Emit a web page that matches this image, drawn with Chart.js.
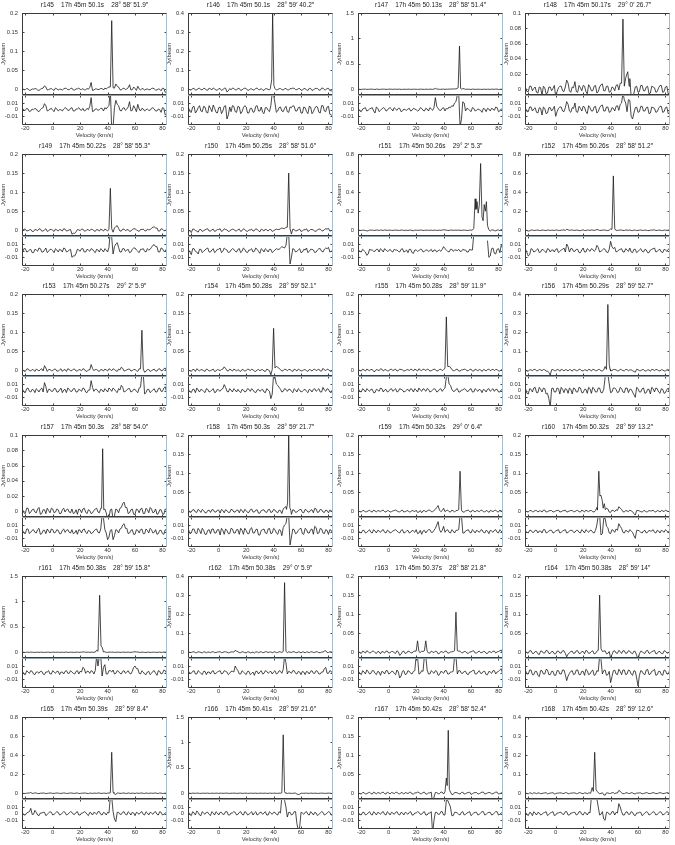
<!DOCTYPE html>
<html>
<head>
<meta charset="utf-8">
<script src="https://cdn.jsdelivr.net/npm/chart.js@4.4.1/dist/chart.umd.min.js"></script>
<style>
  html, body { margin: 0; padding: 0; background: #fff; }
  #grid { position: relative; width: 675px; height: 845px; overflow: hidden; }
  #grid canvas { position: absolute; }
</style>
</head>
<body>
<div id="grid"></div>
<script>
// channel velocities (km/s), even and odd channels
const velocityEven = [-22,-20,-18,-16,-14,-12,-10,-8,-6,-4,-2,0,2,4,6,8,10,12,
  14,16,18,20,22,24,26,28,30,32,34,36,38,40,42,44,46,48,
  50,52,54,56,58,60,62,64,66,68,70,72,74,76,78,80,82,84];
const velocityOdd = [-21,-19,-17,-15,-13,-11,-9,-7,-5,-3,-1,1,3,5,7,9,11,13,
  15,17,19,21,23,25,27,29,31,33,35,37,39,41,43,45,47,49,
  51,53,55,57,59,61,63,65,67,69,71,73,75,77,79,81,83];
const velocityTicks = [-20, 0, 20, 40, 60, 80];
const residualTicks = [-0.01, 0, 0.01];

const sourceNames = ['r145','r146','r147','r148','r149','r150','r151','r152',
  'r153','r154','r155','r156','r157','r158','r159','r160',
  'r161','r162','r163','r164','r165','r166','r167','r168'];
const rightAscension = ['17h 45m 50.1s','17h 45m 50.1s','17h 45m 50.13s','17h 45m 50.17s',
  '17h 45m 50.22s','17h 45m 50.25s','17h 45m 50.26s','17h 45m 50.26s',
  '17h 45m 50.27s','17h 45m 50.28s','17h 45m 50.28s','17h 45m 50.29s',
  '17h 45m 50.3s','17h 45m 50.3s','17h 45m 50.32s','17h 45m 50.32s',
  '17h 45m 50.38s','17h 45m 50.38s','17h 45m 50.37s','17h 45m 50.38s',
  '17h 45m 50.39s','17h 45m 50.41s','17h 45m 50.42s','17h 45m 50.42s'];
const declination = ['28° 58′ 51.9″','28° 59′ 40.2″','28° 58′ 51.4″','29° 0′ 26.7″',
  '28° 58′ 55.3″','28° 58′ 51.6″','29° 2′ 5.3″','28° 58′ 51.2″',
  '29° 2′ 5.9″','28° 59′ 52.1″','28° 59′ 11.9″','28° 59′ 52.7″',
  '28° 58′ 54.0″','28° 59′ 21.7″','29° 0′ 6.4″','28° 59′ 13.2″',
  '28° 59′ 15.8″','29° 0′ 5.9″','28° 58′ 21.8″','28° 59′ 14″',
  '28° 59′ 8.4″','28° 59′ 21.6″','28° 58′ 52.4″','28° 59′ 12.6″'];

const fluxMax  = [0.2,0.4,1.5,0.1, 0.2,0.2,0.8,0.8, 0.2,0.2,0.2,0.4, 0.1,0.2,0.2,0.2, 1.5,0.4,0.2,0.2, 0.8,1.5,0.2,0.4];
const fluxStep = [0.05,0.1,0.5,0.02, 0.05,0.05,0.2,0.2, 0.05,0.05,0.05,0.1, 0.02,0.05,0.05,0.05, 0.5,0.1,0.05,0.05, 0.2,0.5,0.05,0.1];

// emission line segments [velocity, Jy/beam]
const lineProfiles = [
  [[[42,0.006],[43,0.18],[44,0.004]]],
  [[[37.6,0.002],[38.6,0.05],[39.3,0.40],[40.2,0.02],[41,0.004]]],
  [[[49,0.004],[50.6,0.03],[51.6,0.85],[52.4,0.02],[53,0.002]]],
  [[[48,0.008],[49,0.092],[50,0.004],[51,0.015],[52.5,0.023],[53.5,0.004]]],
  [[[41,0.003],[42,0.11],[43,0.004]]],
  [[[50,0.008],[51,0.15],[52,0.004]]],
  [[[61,0.002],[62,0.02],[63,0.33],[63.6,0.22],[64.4,0.3],[65.2,0.18],[66,0.26],[67,0.7],[68,0.14],[68.8,0.1],[69.6,0.27],[70.4,0.2],[71.2,0.3],[72,0.05],[73,0.005]]],
  [[[41,0.01],[42,0.57],[43,0.02],[43.6,0.002]]],
  [[[64,0.004],[65,0.105],[66,0.003]]],
  [[[39,0.002],[40,0.11],[41,0.006]]],
  [[[41,0.005],[42,0.14],[43,0.01]]],
  [[[37,0.005],[38,0.345],[39,0.03],[39.6,0.005]]],
  [[[35.6,0.004],[36.4,0.082],[37.2,0.002]]],
  [[[49.4,0.005],[50.2,0.022],[51,0.2],[51.8,0.01],[52.6,0.002]]],
  [[[51,0.004],[52,0.105],[53,0.003]]],
  [[[30.4,0.003],[31.4,0.105],[32.2,0.04],[33,0.042],[33.8,0.03],[34.6,0.008],[35.4,0.02],[36.2,0.004]]],
  [[[31,0.004],[32,0.04],[33,0.02],[34.2,1.12],[35.2,0.12],[36,0.1],[37,0.005]]],
  [[[47,0.004],[48,0.365],[49,0.005]]],
  [[[20,0.003],[21,0.03],[22,0.002]], [[26,0.004],[27,0.03],[28,0.003]], [[48,0.004],[49,0.105],[50,0.004]]],
  [[[31,0.005],[32,0.15],[33,0.01],[34,0.002]]],
  [[[42,0.005],[43,0.43],[44,0.01],[44.6,0.002]]],
  [[[46,0.01],[47,1.15],[48,0.03],[48.6,0.002]]],
  [[[41,0.004],[42,0.04],[42.6,0.02],[43.4,0.165],[44.2,0.01],[45,0.003]]],
  [[[25.6,0.004],[26.6,0.03],[27.4,0.01],[28.4,0.215],[29.4,0.02],[30.2,0.01],[31,0.003]]]
];

// residuals on even channels, mJy/beam
const residualsEven = [
  [2,-1,1,-2,0,1,-3,2,9,-2,1,-1,3,-2,0,1,2,-1, 3,-2,1,0,2,-1,0,18,-2,1,0,2,3,4,30,-25,14,6, -2,3,1,12,-1,2,8,-2,1,0,-1,2,1,-2,0,3,-8,-10],
  [3,-4,5,-2,6,-3,4,-5,2,7,-4,3,-6,5,-14,4,6,-3, 5,-6,3,4,-5,2,-3,6,-2,-4,3,-1,6,22,-4,3,-2,2, -3,4,6,-2,3,-5,4,-3,5,-6,2,4,-5,6,-3,5,-8,-10],
  [1,-3,2,-2,1,3,-5,2,-1,3,-2,2,1,3,-1,2,-2,0, 1,-2,2,0,-1,2,-2,1,3,-1,18,2,-1,3,2,4,6,10, 22,-25,12,-2,1,-3,2,-1,0,-4,1,2,-2,1,4,-3,1,2],
  [2,-3,4,1,-4,3,-8,2,-5,3,1,-10,2,4,-3,12,-2,3, 10,-4,2,5,-3,6,-2,4,-5,3,7,-2,4,-3,2,5,-1,10, 15,-3,14,-14,3,-4,5,-2,3,-6,4,2,-3,5,-4,3,-6,-2],
  [-2,3,-1,2,-3,1,4,-2,1,-3,2,0,3,-2,1,4,-2,1, -10,-8,2,-1,3,-2,1,3,-1,2,-2,1,3,-2,30,-5,10,5, -2,3,1,-3,2,4,-1,2,3,-2,1,5,9,6,-2,3,-1,2],
  [1,-6,3,-2,2,-3,1,4,-2,3,-1,2,-3,4,1,-2,3,-1, 2,-3,4,-2,1,3,-1,2,-4,1,3,-2,2,-1,3,2,6,4, 25,-20,3,-2,1,-3,2,4,-1,2,-3,1,3,-2,4,5,-1,2],
  [1,-2,0,-7,2,1,-1,2,3,-2,1,0,-1,2,1,-2,3,-1, -3,2,-4,1,0,2,-1,1,0,-2,1,0,-1,6,1,-2,2,1, 0,-1,2,1,-2,1,25,null,null,null,null,15,-8,4,-5,3,8,-2],
  [2,-8,3,-2,1,-3,2,-1,3,-2,1,2,-3,1,4,10,-2,3, -1,2,-3,4,-2,1,3,-1,8,-2,1,2,-3,14,3,-2,1,3, -2,1,4,-3,2,-1,3,-2,1,-3,2,4,-1,2,-3,1,2,-1],
  [2,-3,4,-2,1,3,-2,4,12,-3,2,-1,3,-2,4,1,-3,2, -1,3,-2,1,4,-2,1,15,-1,2,-3,1,3,-2,2,4,-1,3, 8,-2,1,3,-1,2,-3,5,25,-3,2,-1,3,-2,4,-1,6,2],
  [1,-3,2,4,-2,1,-3,2,-1,3,-2,1,2,9,-1,3,-2,1, 2,-3,1,-1,2,3,-2,1,-1,2,-3,1,-12,25,10,5,-2,3, -1,2,-3,1,3,-2,1,-1,2,-2,3,1,-2,5,-1,2,-3,1],
  [2,-2,1,3,-1,2,-3,1,4,-2,2,-1,3,1,-2,3,1,-1, 2,3,-2,1,4,-1,2,3,-2,1,2,-1,3,2,20,10,2,-1, 3,-2,1,2,-1,3,-2,1,2,-3,1,2,-1,3,2,-2,1,2],
  [3,-5,2,4,-3,5,-2,3,-4,-25,4,-2,3,5,-3,2,4,-5, 3,-2,4,-3,2,5,-4,3,-2,4,-3,20,25,-3,4,2,-2,3, -3,4,2,-2,-10,3,-2,4,-3,2,5,-2,3,-4,2,-3,4,1],
  [2,-3,4,-1,3,-2,5,-3,2,4,-2,3,-1,2,-3,4,2,-1, 3,-2,-4,2,3,-1,2,-3,1,4,-2,25,3,-12,2,-12,3,-2, 5,12,5,-2,3,-4,2,3,-3,4,-2,3,-1,-4,2,-3,3,1],
  [3,-2,4,-3,2,5,-4,2,-3,4,-2,3,5,-4,2,-3,4,-2, 3,5,-4,2,-3,6,-2,4,-5,3,-2,4,-3,5,-2,3,-6,10, 25,-20,4,-3,2,5,-4,3,-2,4,8,-3,5,-2,3,-4,2,3],
  [1,-2,2,-1,3,-2,1,2,-1,3,-2,1,-1,2,1,-2,3,-1, 2,-1,1,3,-2,-4,2,1,3,-1,5,15,-1,8,2,-1,3,-2, 2,25,-2,1,3,-2,1,2,-1,3,-2,1,2,-1,3,-2,1,2],
  [1,-2,2,-1,2,1,-2,3,-1,2,-2,1,3,-1,2,-2,1,2, -1,2,-2,1,3,-1,2,-2,10,25,-3,20,6,-3,2,4,12,5, -2,1,3,-1,-10,2,-1,1,-2,2,1,-1,2,-2,1,3,-1,1],
  [2,-3,1,3,-2,1,-1,2,-3,1,-2,3,-1,2,1,-2,3,-1, 1,-2,3,2,8,-1,2,3,-2,25,25,-5,12,-2,3,4,-1,2, -2,3,1,-1,2,10,6,-2,1,-3,2,-1,3,-4,2,-1,3,-2],
  [2,-1,3,-2,1,-3,2,1,-2,3,-1,2,-2,3,1,-1,2,10, 3,-2,1,-3,2,-1,-4,2,1,-2,3,-1,2,1,-2,3,-1,25, -2,1,3,-1,2,-3,1,2,-2,3,-1,2,-2,1,8,-1,2,-2],
  [2,-3,1,4,-2,3,-1,2,-4,1,3,-2,2,-1,4,-8,2,-3, 3,-1,2,25,-2,3,25,4,-2,1,3,-4,2,-1,3,-2,1,25, -2,3,-1,2,-3,1,4,-2,3,-1,2,-3,1,3,-2,2,6,-1],
  [3,-2,4,-3,2,-6,3,-2,4,-3,2,-4,3,-2,4,-12,-1,3, -2,4,-3,2,5,-3,2,-4,3,25,-2,4,-3,-15,3,-2,5,-3, 4,-2,3,-4,2,-20,3,-2,4,-3,2,5,-3,2,-4,3,-2,2],
  [1,-2,2,8,-1,2,-3,1,2,-1,3,-2,1,2,-1,3,-2,1, 2,-1,3,-2,1,2,-3,1,2,-1,3,-2,1,2,25,3,-12,2, -1,3,-2,1,2,-3,1,2,-1,3,-2,1,2,-1,3,-2,1,2],
  [2,-3,1,4,-2,3,-1,2,-3,1,3,-2,2,-1,3,-2,1,2, -1,3,-2,2,-1,3,1,-2,2,-1,3,-2,1,2,-1,3,25,20, -5,2,-1,3,-25,2,-1,3,-2,1,2,-3,1,2,-1,3,-2,1],
  [1,-2,2,-1,3,-2,1,2,-1,3,-2,1,2,-1,3,-2,1,2, -1,3,-2,1,2,-1,3,-2,1,-30,2,-1,3,-2,20,15,-3,2, 1,-2,3,-1,2,-3,1,2,-1,3,-2,1,2,-1,3,-2,1,2],
  [2,-3,1,3,-2,1,-1,2,-3,1,3,-2,1,2,-1,3,-2,1, 2,-1,3,-2,1,2,25,25,22,-2,3,-10,2,-1,3,2,15,3, -2,3,-1,2,-3,1,2,-1,3,-2,1,2,-1,3,-2,1,2,-1]
];

// residuals on odd channels, mJy/beam
const residualsOdd = [
  [-1,2,-3,1,2,-2,0,3,6,-1,2,-3,1,0,-2,3,-1,2, -2,1,3,-1,-2,2,5,-3,1,-1,2,-2,1,6,-30,3,8,-1, 2,-1,4,-2,6,-3,1,2,-2,1,-1,3,-2,1,-4,2,-6],
  [-3,4,-5,3,-2,5,-4,6,-3,2,-5,4,-2,6,-8,-3,5,-4, 4,-3,6,-5,2,-4,5,-2,4,-6,3,-3,25,10,-2,4,-3,5, -4,3,5,-2,4,-5,3,-6,4,-3,5,-4,6,-2,4,-7,-9],
  [-2,1,3,-1,2,-2,4,-3,1,2,-1,3,-2,1,2,-3,1,-1, 2,-1,1,-2,3,-1,2,-2,1,3,5,-1,2,-2,1,3,5,12, 25,-15,10,2,-1,3,-2,1,-1,2,-3,1,2,-1,3,-2,1],
  [-3,4,-2,3,-5,2,4,-6,3,-2,5,-3,4,-2,3,8,-4,2, -3,5,-2,4,-6,3,-2,5,-3,6,-2,4,-4,3,-2,6,8,25, 10,15,-10,-5,4,-3,5,-2,4,-5,3,-4,2,5,-3,4,-5],
  [3,-2,1,-3,2,-1,3,-2,4,-1,2,-3,1,2,-2,3,-1,2, -8,-4,1,3,-2,2,-1,2,-3,1,3,-2,1,5,20,6,12,-2, 3,-1,2,-2,4,1,-3,2,-1,3,2,8,6,-2,4,-1,3],
  [-2,3,-1,-5,2,-1,3,-2,1,-3,2,4,-1,2,-3,1,2,-2, 3,-1,2,-3,1,-2,4,-1,3,-2,1,2,-3,1,2,4,5,8, 25,-10,2,-1,3,-2,1,-3,2,1,-2,3,-1,2,3,-2,1],
  [-1,2,-2,-5,1,-1,2,-2,1,3,-1,2,-2,1,-1,2,-2,1, 2,-3,1,-1,2,-2,1,-1,2,1,-2,1,2,3,-1,2,-1,1, 2,-1,1,-2,2,1,null,null,null,null,null,-10,3,-4,2,-3,4],
  [-3,-6,2,-1,3,-2,1,-3,2,1,-2,3,-1,2,-2,6,3,-1, 2,-3,1,-2,3,-1,2,1,5,-1,3,-2,2,6,5,-1,2,-2, 3,-1,-2,2,-3,1,-1,2,-3,1,3,-2,1,-2,2,-1,3],
  [-2,3,-1,2,-3,1,2,-2,6,2,-1,3,-2,1,-3,2,4,-1, 3,-2,2,-1,3,-3,1,5,2,-1,2,-2,1,4,-1,2,-3,1, 5,-1,3,-2,2,-1,4,25,-5,2,-3,1,-2,3,-1,4,-2],
  [-1,2,-3,1,2,-1,3,-2,1,-3,2,-1,3,5,-2,1,3,-2, -1,2,-2,3,-1,1,-3,2,1,-2,3,-1,-5,20,8,2,-1,2, 2,-1,3,-2,1,-1,2,-3,1,2,-1,3,-2,1,3,-2,2],
  [-1,3,-2,1,2,-3,2,-1,3,1,-2,2,-1,3,-1,2,-2,1, -1,2,3,-2,1,3,-1,2,-1,3,-2,2,-1,4,25,8,-1,2, -2,1,3,-1,2,-2,3,-1,1,2,-2,3,1,-1,2,-2,3],
  [-4,3,-2,5,-3,2,4,-5,-12,3,-2,4,-5,2,3,-4,2,4, -2,5,-3,2,-4,3,5,-2,4,-3,2,25,10,-2,4,-3,5,-2, 4,-3,2,-6,5,-2,3,-4,2,-5,3,4,-2,3,-4,2,-3],
  [-2,4,-3,2,-1,3,-4,2,-3,1,4,-2,3,-3,2,-1,3,-2, -3,2,3,-2,4,-3,1,-2,3,-1,4,20,-2,-8,3,-6,2,4, 10,5,-3,2,-4,3,-2,4,-3,2,5,-2,3,-3,2,-4,2],
  [-3,4,-2,5,-3,2,-4,3,4,-2,3,-5,2,4,-3,5,-2,3, -4,2,5,-3,4,-2,3,-5,2,4,-3,5,-2,3,-4,2,6,12, 25,-8,3,-2,4,-3,5,-2,3,-4,6,-2,4,-3,2,3,-2],
  [-1,2,-2,1,-1,3,-2,1,2,-1,2,-2,1,3,-1,2,-2,1, -2,2,-1,-3,2,1,-2,3,-1,2,10,3,2,-1,3,-2,1,2, 3,25,-2,2,-1,3,-2,1,2,-1,2,-3,1,2,-1,3,-2],
  [-1,2,-1,2,-2,1,3,-2,1,2,-1,2,-2,1,3,-1,2,-1, 2,-1,3,-2,1,2,-1,2,25,-5,20,8,-2,3,-1,2,8,-1, 2,-1,1,-6,2,1,-2,2,-1,1,3,-2,1,2,-1,1,2],
  [-2,3,-1,2,-3,1,2,-2,1,3,-2,1,2,-3,1,2,-1,3, -1,2,-2,1,6,2,-1,2,3,10,25,8,-2,3,1,-2,3,-1, 2,-1,3,-2,8,6,-1,3,-2,1,-3,2,-1,3,-2,4,-1],
  [-1,2,-2,3,-1,2,-3,1,2,-2,1,3,-1,2,-3,2,1,6, -2,3,-1,2,-3,1,2,-2,3,-1,2,1,-2,3,-1,2,5,15, 2,-1,3,-2,1,2,-3,1,2,-1,3,-2,1,6,-1,3,-1],
  [-1,3,-2,2,-1,3,-3,1,2,-2,3,-1,2,-3,1,-5,3,-2, 2,-2,3,25,-1,2,25,-2,3,-1,2,-3,1,3,-2,1,2,25, 3,-1,2,-2,1,3,-2,1,-1,2,-3,2,-1,3,1,4,-2],
  [-2,4,-3,2,-4,3,-2,5,-3,2,-4,3,-2,4,-3,-5,2,-3, 4,-3,2,-4,3,-2,4,-3,2,20,3,-4,2,-6,4,-3,2,4, -3,4,-2,3,-8,-4,2,-3,5,-2,3,-4,2,-3,4,-2,3],
  [-2,1,3,-1,5,-2,1,2,-3,1,2,-1,3,-2,1,2,-1,3, -1,2,-2,1,3,-1,2,-2,1,3,-1,2,-2,1,25,-8,2,-1, 2,-1,3,-2,1,2,-1,3,-2,1,2,-1,3,-2,2,-1,2],
  [-1,3,-2,2,-3,1,2,-1,3,-2,1,2,-1,3,-2,1,3,-2, 2,-1,3,-2,1,-2,3,-1,2,1,-2,3,-1,2,-2,1,25,10, 2,-2,3,-15,-20,1,2,-1,3,-2,1,-1,3,-2,1,2,-2],
  [-1,2,-2,1,-1,3,-2,1,2,-1,3,-2,1,2,-1,2,-2,1, 2,-2,1,3,-1,2,-2,1,3,-10,2,-1,3,-2,20,10,-3,2, -1,2,-2,1,3,-1,2,-2,1,3,-1,2,-2,1,3,-1,2],
  [-1,2,-3,1,2,-2,1,3,-1,2,-3,1,2,-1,3,-2,1,2, -2,3,-1,2,-2,1,25,25,10,-1,-8,2,-1,3,-2,1,10,-2, 2,-1,3,-2,1,2,-3,1,2,-1,3,-2,1,2,-1,3,-2]
];

// layout of the 4 x 6 grid (page pixels)
const colLeft = [22, 188, 358, 525];
const rowTop = [13, 154, 294, 435, 576, 717];
const plotW = 145, specH = 82, resH = 30, axisW = 22;
const velMin = -22.4, velMax = 83.3;
const fontFamily = '"Liberation Sans", Arial, sans-serif';

const framePlugin = {
  id: 'frame',
  afterDraw(chart, args, opts) {
    const { ctx, chartArea: a, scales } = chart;
    ctx.save();
    ctx.lineWidth = 1;
    ctx.strokeStyle = '#444';
    ctx.beginPath();
    velocityTicks.forEach(v => {
      const x = Math.round(scales.x.getPixelForValue(v)) + 0.5;
      ctx.moveTo(x, a.top); ctx.lineTo(x, a.top + 2.5);
      ctx.moveTo(x, a.bottom); ctx.lineTo(x, a.bottom - 2.5);
    });
    scales.y.ticks.forEach(t => {
      const y = Math.round(scales.y.getPixelForValue(t.value)) + 0.5;
      ctx.moveTo(a.left, y); ctx.lineTo(a.left + 2.5, y);
      ctx.moveTo(a.right, y); ctx.lineTo(a.right - 2.5, y);
    });
    ctx.stroke();
    const l = Math.round(a.left) + 0.5, r = Math.round(a.right) - 0.5;
    const t = Math.round(a.top) + 0.5, b = Math.round(a.bottom) - 0.5;
    ctx.strokeStyle = '#3a3a3a';
    ctx.beginPath();
    ctx.moveTo(l, t); ctx.lineTo(l, b); ctx.lineTo(r, b);
    ctx.stroke();
    ctx.strokeStyle = opts.topColor || '#3a3a3a';
    ctx.beginPath(); ctx.moveTo(l, t); ctx.lineTo(r, t); ctx.stroke();
    ctx.strokeStyle = '#a4bccb';
    ctx.beginPath(); ctx.moveTo(r, t); ctx.lineTo(r, b); ctx.stroke();
    if (opts.title) {
      ctx.fillStyle = '#222';
      ctx.font = '6.5px ' + fontFamily;
      ctx.textAlign = 'center';
      ctx.textBaseline = 'middle';
      ctx.fillText(opts.title, (a.left + a.right) / 2, a.top - 8);
    }
    ctx.restore();
  }
};

const tickFont = { family: fontFamily, size: 5.8 };
const fmt = v => String(+Number(v).toFixed(3));

function residualPoints(i) {
  const pts = [];
  velocityEven.forEach((v, k) => pts.push({ x: v, y: residualsEven[i][k] }));
  velocityOdd.forEach((v, k) => pts.push({ x: v, y: residualsOdd[i][k] }));
  pts.sort((p, q) => p.x - q.x);
  return pts.map(p => ({ x: p.x, y: p.y === null ? null : p.y / 1000 }));
}

function spectrumPoints(i) {
  const segs = lineProfiles[i];
  const inLine = v => segs.some(s => v >= s[0][0] && v <= s[s.length - 1][0]);
  const pts = residualPoints(i).filter(p => p.y !== null && !inLine(p.x));
  segs.forEach(s => s.forEach(([x, y]) => pts.push({ x, y })));
  return pts.sort((p, q) => p.x - q.x);
}

function makeCanvas(left, top, w, h) {
  const c = document.createElement('canvas');
  c.width = w; c.height = h;
  c.style.left = left + 'px'; c.style.top = top + 'px';
  c.style.width = w + 'px'; c.style.height = h + 'px';
  document.getElementById('grid').appendChild(c);
  return c;
}

const baseOptions = {
  responsive: false, animation: false, devicePixelRatio: 1, events: [],
  plugins: { legend: { display: false }, tooltip: { enabled: false } }
};

function lineDataset(points) {
  return { data: points, borderColor: '#1c1c1c', borderWidth: 0.8, pointRadius: 0, tension: 0, spanGaps: false };
}

sourceNames.forEach((name, i) => {
  const col = i % 4, row = Math.floor(i / 4);
  const L = colLeft[col], T = rowTop[row];
  const w = axisW + plotW + 4;

  // spectrum
  const c1 = makeCanvas(L - axisW, T - 14, w, 14 + specH);
  new Chart(c1, {
    type: 'line',
    data: { datasets: [lineDataset(spectrumPoints(i))] },
    options: {
      ...baseOptions,
      layout: { padding: { top: 14, right: 4, bottom: 0, left: 0 } },
      plugins: { ...baseOptions.plugins, frame: { title: name + '    ' + rightAscension[i] + '    ' + declination[i] } },
      scales: {
        x: { type: 'linear', min: velMin, max: velMax, display: false },
        y: {
          min: -0.075 * fluxMax[i], max: fluxMax[i],
          grid: { display: false, drawTicks: false }, border: { display: false },
          ticks: { stepSize: fluxStep[i], includeBounds: false, padding: 4, color: '#333', font: tickFont, callback: fmt },
          title: { display: true, text: 'Jy/beam', padding: 0, color: '#333', font: tickFont },
          afterFit(s) { s.width = axisW; s.paddingTop = 0; s.paddingBottom = 0; }
        }
      }
    },
    plugins: [framePlugin]
  });

  // residual
  const c2 = makeCanvas(L - axisW, T + specH, w, resH + 14);
  new Chart(c2, {
    type: 'line',
    data: { datasets: [lineDataset(residualPoints(i))] },
    options: {
      ...baseOptions,
      layout: { padding: { top: 0, right: 4, bottom: 0, left: 0 } },
      plugins: { ...baseOptions.plugins, frame: { topColor: '#8fa2ae' } },
      scales: {
        x: {
          type: 'linear', min: velMin, max: velMax,
          grid: { display: false, drawTicks: false }, border: { display: false },
          ticks: { padding: 0, color: '#333', font: tickFont, maxRotation: 0, autoSkip: false, callback: fmt },
          afterBuildTicks(s) { s.ticks = velocityTicks.map(value => ({ value })); },
          title: { display: true, text: 'Velocity (km/s)', padding: 0, color: '#333', font: tickFont },
          afterFit(s) { s.height = 14; s.paddingLeft = 0; s.paddingRight = 0; }
        },
        y: {
          min: -0.023, max: 0.022,
          grid: { display: false, drawTicks: false }, border: { display: false },
          ticks: { padding: 4, color: '#333', font: tickFont, autoSkip: false, callback: fmt },
          afterBuildTicks(s) { s.ticks = residualTicks.map(value => ({ value })); },
          afterFit(s) { s.width = axisW; s.paddingTop = 0; s.paddingBottom = 0; }
        }
      }
    },
    plugins: [framePlugin]
  });
});
</script>
</body>
</html>
